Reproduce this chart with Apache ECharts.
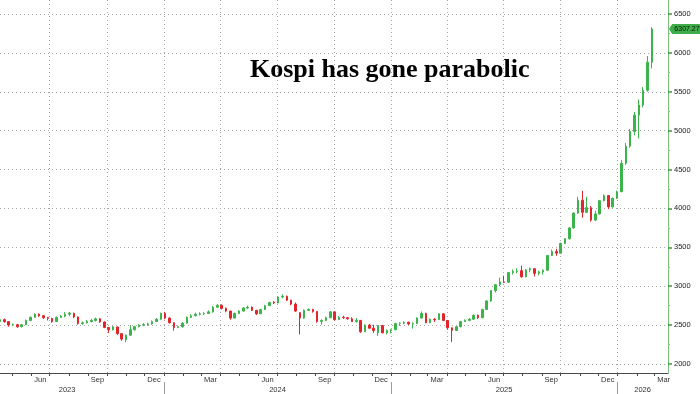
<!DOCTYPE html>
<html><head><meta charset="utf-8">
<script src="https://cdn.jsdelivr.net/npm/echarts@6/dist/echarts.min.js"></script>
<style>html,body{margin:0;padding:0;background:#fff}#c{width:700px;height:394px}</style>
</head><body><div id="c"></div>
<script>
// Weekly candles (Monday of each week)
const weeks = [
'2023-04-10','2023-04-17','2023-04-24','2023-05-01','2023-05-08','2023-05-15','2023-05-22','2023-05-29','2023-06-05','2023-06-12','2023-06-19','2023-06-26','2023-07-03','2023-07-10','2023-07-17','2023-07-24','2023-07-31','2023-08-07','2023-08-14','2023-08-21','2023-08-28','2023-09-04','2023-09-11','2023-09-18','2023-09-25','2023-10-02','2023-10-09','2023-10-16','2023-10-23','2023-10-30','2023-11-06','2023-11-13','2023-11-20','2023-11-27','2023-12-04','2023-12-11','2023-12-18','2023-12-25',
'2024-01-01','2024-01-08','2024-01-15','2024-01-22','2024-01-29','2024-02-05','2024-02-12','2024-02-19','2024-02-26','2024-03-04','2024-03-11','2024-03-18','2024-03-25','2024-04-01','2024-04-08','2024-04-15','2024-04-22','2024-04-29','2024-05-06','2024-05-13','2024-05-20','2024-05-27','2024-06-03','2024-06-10','2024-06-17','2024-06-24','2024-07-01','2024-07-08','2024-07-15','2024-07-22','2024-07-29','2024-08-05','2024-08-12','2024-08-19','2024-08-26','2024-09-02','2024-09-09','2024-09-16','2024-09-23','2024-09-30','2024-10-07','2024-10-14','2024-10-21','2024-10-28','2024-11-04','2024-11-11','2024-11-18','2024-11-25','2024-12-02','2024-12-09','2024-12-16','2024-12-23','2024-12-30',
'2025-01-06','2025-01-13','2025-01-20','2025-01-27','2025-02-03','2025-02-10','2025-02-17','2025-02-24','2025-03-03','2025-03-10','2025-03-17','2025-03-24','2025-03-31','2025-04-07','2025-04-14','2025-04-21','2025-04-28','2025-05-05','2025-05-12','2025-05-19','2025-05-26','2025-06-02','2025-06-09','2025-06-16','2025-06-23','2025-06-30','2025-07-07','2025-07-14','2025-07-21','2025-07-28','2025-08-04','2025-08-11','2025-08-18','2025-08-25','2025-09-01','2025-09-08','2025-09-15','2025-09-22','2025-09-29','2025-10-06','2025-10-13','2025-10-20','2025-10-27','2025-11-03','2025-11-10','2025-11-17','2025-11-24','2025-12-01','2025-12-08','2025-12-15','2025-12-22','2025-12-29',
'2026-01-05','2026-01-12','2026-01-19','2026-01-26','2026-02-02','2026-02-09','2026-02-16','2026-02-23'];

const opens = [
2545,2570,2545,2500,2505,2480,2505,2560,2600,2640,2620,2595,2585,2545,2600,2615,2640,2650,2605,2520,2530,2545,2560,2580,2540,2470,2440,2476,2390,2310,2370,2440,2480,2500,2505,2515,2545,2575,
2650,2590,2530,2470,2480,2525,2600,2620,2640,2645,2650,2670,2730,2755,2715,2680,2590,2650,2680,2720,2730,2690,2645,2700,2750,2795,2785,2860,2870,2820,2770,2660,2590,2690,2700,2675,2545,2560,2595,2670,2570,2600,2595,2580,2545,2560,2415,2500,2460,2400,2495,2400,2430,
2440,2520,2525,2535,2515,2520,2590,2650,2530,2575,2570,2645,2560,2465,2430,2480,2545,2560,2575,2625,2595,2700,2810,2945,3020,3055,3050,3175,3190,3200,3120,3210,3225,3165,3185,3205,3395,3445,3425,3550,3610,3750,3940,4105,3950,4010,3850,3930,4100,4165,4020,4130,
4215,4580,4800,4990,5200,5330,5520,5880];

const closes = [
2570,2545,2500,2505,2478,2505,2560,2600,2640,2620,2595,2585,2545,2600,2615,2640,2655,2605,2520,2530,2545,2560,2580,2540,2470,2440,2476,2390,2320,2370,2440,2480,2500,2505,2515,2545,2575,2650,
2590,2530,2470,2480,2525,2600,2620,2640,2645,2650,2670,2730,2755,2715,2680,2590,2650,2680,2720,2730,2690,2645,2700,2750,2790,2785,2860,2870,2820,2770,2680,2590,2690,2700,2675,2545,2560,2595,2670,2570,2600,2595,2580,2545,2560,2415,2500,2460,2430,2495,2400,2430,2440,
2520,2525,2535,2515,2520,2590,2650,2530,2575,2570,2645,2560,2465,2430,2480,2545,2560,2575,2625,2595,2700,2810,2945,3020,3055,3050,3175,3190,3195,3120,3210,3225,3165,3185,3205,3395,3445,3425,3550,3610,3750,3940,4105,3950,4010,3850,3930,4100,4165,4020,4130,4215,
4580,4800,4990,5200,5330,5520,5880,6307.27];

const lows = [
2535,2530,2480,2485,2465,2470,2500,2550,2595,2605,2580,2560,2530,2540,2590,2600,2615,2590,2505,2505,2520,2535,2545,2530,2460,2400,2430,2375,2300,2280,2365,2430,2470,2485,2490,2505,2540,2570,
2575,2520,2430,2460,2465,2520,2590,2610,2625,2630,2645,2660,2725,2700,2665,2570,2585,2640,2675,2705,2680,2630,2640,2695,2745,2770,2780,2845,2810,2755,2670,2380,2580,2680,2660,2530,2505,2550,2590,2560,2565,2580,2570,2540,2530,2400,2410,2450,2400,2360,2395,2380,2395,
2435,2490,2510,2500,2455,2515,2585,2525,2525,2540,2565,2550,2440,2285,2425,2470,2540,2550,2570,2580,2590,2695,2800,2920,3000,3040,3045,3150,3165,3110,3115,3180,3125,3140,3150,3200,3390,3390,3420,3545,3600,3740,3930,3880,3940,3830,3840,3920,4090,3990,4010,4120,
4210,4560,4780,4940,4900,5300,5500,5800];

const highs = [
2590,2585,2550,2520,2515,2515,2570,2610,2650,2650,2630,2605,2595,2610,2630,2665,2670,2660,2610,2545,2565,2580,2595,2590,2545,2475,2490,2480,2395,2380,2500,2490,2515,2525,2530,2560,2590,2660,
2670,2600,2535,2495,2540,2610,2640,2660,2665,2665,2690,2745,2770,2765,2725,2685,2660,2690,2730,2750,2740,2695,2710,2760,2800,2810,2870,2895,2880,2825,2790,2665,2700,2715,2710,2680,2575,2610,2680,2675,2615,2620,2605,2600,2590,2565,2510,2515,2505,2500,2500,2445,2450,
2530,2535,2550,2545,2535,2600,2675,2660,2585,2590,2655,2650,2565,2470,2490,2555,2575,2590,2635,2635,2710,2820,2950,3030,3110,3135,3185,3215,3230,3265,3220,3240,3230,3200,3215,3400,3470,3480,3560,3620,3760,3950,4150,4225,4150,4030,3970,4110,4180,4170,4140,4230,
4620,4840,5020,5240,5400,5560,5960,6330];

const yTicks = [2000,2500,3000,3500,4000,4500,5000,5500,6000,6500];
const yMinorTicks = [2250,2750,3250,3750,4250,4750,5250,5750,6250];
const monthNames = ['Jan','Feb','Mar','Apr','May','Jun','Jul','Aug','Sep','Oct','Nov','Dec'];
const titleText = 'Kospi has gone parabolic';

const DAY = 86400000;
const BASE = Date.UTC(2024,0,1);
function dayNum(s){const p=s.split('-').map(Number);return (Date.UTC(p[0],p[1]-1,p[2])-BASE)/DAY;}
function toDate(v){return new Date(BASE+v*DAY);}

const xMin = dayNum('2023-04-12'), xMax = dayNum('2026-03-23');
const candles = weeks.map((w,i)=>[dayNum(w)+2, opens[i], closes[i], lows[i], highs[i]]);
const lastValue = closes[closes.length-1];

const monthStarts=[], quarterStarts=[], yearStarts=[], quarterLabelDays=[];
for (let y=2023;y<=2026;y++) for (let m=0;m<12;m++){
  const d=(Date.UTC(y,m,1)-BASE)/DAY;
  if (d>=xMin && d<=xMax){ monthStarts.push(d); if(m%3===0) quarterStarts.push(d); if(m===0) yearStarts.push(d); }
  if (m%3===2){ const mid=(Date.UTC(y,m,16)-BASE)/DAY; if(mid>=xMin && mid<=xMax) quarterLabelDays.push(mid); }
}
const yearLabelDays = ['2023-07-29','2024-07-02','2025-07-02','2026-02-10'].map(dayNum);

const FONT = 'Liberation Sans';
const GRID_COLOR = '#a8a8a8';
const UP = '#3cb44b', DOWN = '#e0262b';

const chart = echarts.init(document.getElementById('c'), null, {renderer:'canvas'});
chart.setOption({
  animation:false,
  backgroundColor:'#ffffff',
  title:{text:titleText,left:250,top:57,padding:0,
    textStyle:{fontFamily:'Liberation Serif',fontWeight:'bold',fontSize:26,color:'#000'}},
  grid:{left:0,right:32,top:0,bottom:21,containLabel:false,outerBoundsMode:'none'},
  xAxis:[
    {type:'value',min:xMin,max:xMax,position:'bottom',
      axisLine:{show:true,onZero:false,lineStyle:{color:'#4a4a4a',width:1}},
      axisTick:{show:false,customValues:quarterStarts},
      splitLine:{show:true,lineStyle:{color:GRID_COLOR,type:[1,3],width:1}},
      axisLabel:{show:true,customValues:quarterLabelDays,margin:3,fontSize:7.5,fontFamily:FONT,color:'#333',
        formatter:v=>monthNames[toDate(v).getUTCMonth()]}},
    {type:'value',min:xMin,max:xMax,position:'bottom',
      axisLine:{show:false,onZero:false},splitLine:{show:false},axisLabel:{show:false},
      axisTick:{show:true,customValues:monthStarts,length:3,lineStyle:{color:'#4a4a4a',width:1}}},
    {type:'value',min:xMin,max:xMax,position:'bottom',offset:9,
      axisLine:{show:false,onZero:false},splitLine:{show:false},
      axisTick:{show:true,customValues:yearStarts,length:12,lineStyle:{color:'#9a9a9a',width:1}},
      axisLabel:{show:true,customValues:yearLabelDays,margin:4,fontSize:7.5,fontFamily:FONT,color:'#333',
        formatter:v=>String(toDate(v).getUTCFullYear())}}
  ],
  yAxis:[
    {type:'value',min:1884,max:6680,position:'right',
      axisLine:{show:true,onZero:false,lineStyle:{color:'#7cc47c',width:1}},
      axisTick:{show:true,customValues:yTicks,length:4,lineStyle:{color:'#3c9a3c',width:1.5}},
      axisLabel:{show:true,customValues:yTicks,margin:6,fontSize:7.5,fontFamily:FONT,color:'#222',
        formatter:v=>String(v)},
      splitLine:{show:true,lineStyle:{color:GRID_COLOR,type:[1,3],width:1}}},
    {type:'value',min:1884,max:6680,position:'right',
      axisLine:{show:false,onZero:false},splitLine:{show:false},axisLabel:{show:false},
      axisTick:{show:true,customValues:yMinorTicks,length:2,lineStyle:{color:'#7cc47c',width:1}}}
  ],
  series:[{
    type:'candlestick',xAxisIndex:0,yAxisIndex:0,data:candles,barWidth:2,
    itemStyle:{color:UP,color0:DOWN,borderColor:UP,borderColor0:DOWN,borderWidth:1},
    markPoint:{
      symbol:'path://M0,5 L4,0 L40,0 L40,10 L4,10 Z',
      symbolSize:[32,10],symbolOffset:[17,0],symbolKeepAspect:false,
      itemStyle:{color:'#3fae49'},
      label:{show:true,position:'inside',formatter:String(lastValue),fontSize:7,fontFamily:FONT,color:'#111',offset:[2,0]},
      data:[{coord:[xMax,lastValue]}]
    }
  }]
});
</script></body></html>
